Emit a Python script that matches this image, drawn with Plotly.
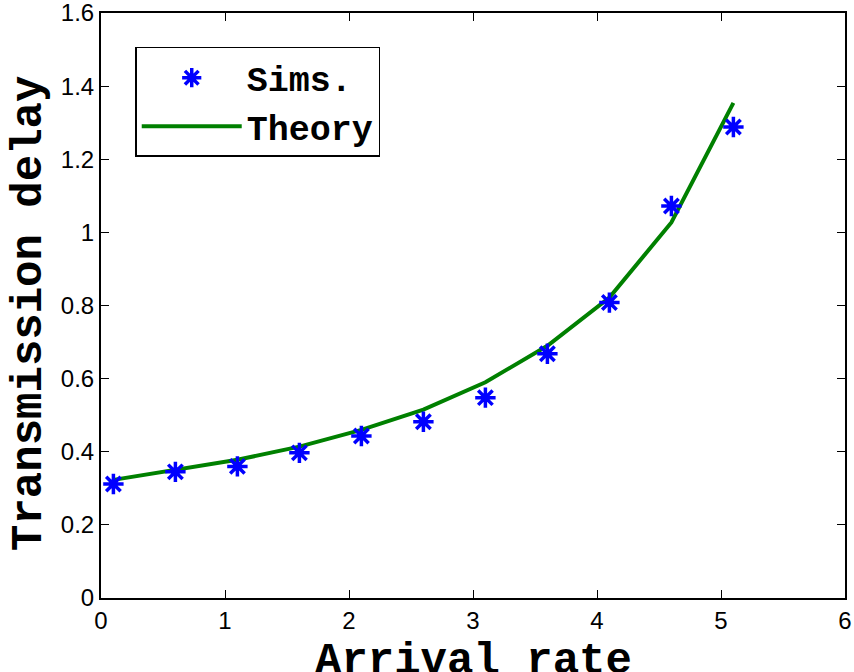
import plotly.graph_objects as go

arrival_rate = [0.1, 0.6, 1.1, 1.6, 2.1, 2.6, 3.1, 3.6, 4.1, 4.6, 5.1]
sims = [0.312, 0.345, 0.360, 0.397, 0.443, 0.482, 0.548, 0.668, 0.808, 1.072, 1.288]
theory = [0.323, 0.350, 0.378, 0.414, 0.460, 0.515, 0.590, 0.690, 0.822, 1.027, 1.354]

x_ticks = [0, 1, 2, 3, 4, 5, 6]
y_ticks = [0, 0.2, 0.4, 0.6, 0.8, 1.0, 1.2, 1.4, 1.6]
y_ticktext = ["0", "0.2", "0.4", "0.6", "0.8", "1", "1.2", "1.4", "1.6"]
x_title = "Arrival rate"
y_title = "Transmission delay"

fig = go.Figure()
fig.add_trace(go.Scatter(
    x=arrival_rate, y=theory, mode="lines", name="Theory",
    line=dict(color="#008000", width=4), showlegend=False))
fig.add_trace(go.Scatter(
    x=arrival_rate, y=sims, mode="markers", name="Sims.",
    marker=dict(symbol="asterisk-open", size=17, color="#0000ff",
                line=dict(color="#0000ff", width=3.5)), showlegend=False))

# legend-only traces (ordered Sims., Theory)
fig.add_trace(go.Scatter(
    x=[None], y=[None], mode="markers", name="<b>Sims.</b>",
    marker=dict(symbol="asterisk-open", size=17, color="#0000ff",
                line=dict(color="#0000ff", width=3.5))))
fig.add_trace(go.Scatter(
    x=[None], y=[None], mode="lines", name="<b>Theory</b>",
    line=dict(color="#008000", width=4)))

tickfont = dict(family="Liberation Sans, Arial, sans-serif", size=24, color="black")
titlefont = dict(family="Liberation Mono, Courier New, monospace", size=44, color="black")

fig.update_layout(
    width=854, height=672,
    margin=dict(l=101, r=9, t=13, b=74),
    plot_bgcolor="white", paper_bgcolor="white",
    legend=dict(
        x=0.046, y=0.942, xanchor="left", yanchor="top",
        bgcolor="white", bordercolor="black", borderwidth=1.5,
        font=dict(family="Liberation Mono, Courier New, monospace", size=35, color="black"),
        itemwidth=100, tracegroupgap=0,
    ),
    xaxis=dict(
        range=[0, 6], tickvals=x_ticks, automargin=False,
        ticks="inside", ticklen=8, tickcolor="black", tickwidth=1,
        showline=True, linecolor="black", linewidth=2, mirror="ticks",
        showgrid=False, zeroline=False, tickfont=tickfont,
        ticklabeloverflow="allow",
    ),
    yaxis=dict(
        range=[0, 1.6], tickvals=y_ticks, ticktext=y_ticktext, automargin=False,
        ticks="inside", ticklen=8, tickcolor="black", tickwidth=1,
        showline=True, linecolor="black", linewidth=2, mirror="ticks",
        showgrid=False, zeroline=False, tickfont=tickfont,
        ticklabeloverflow="allow",
    ),
    annotations=[
        dict(text="<b>" + x_title + "</b>", xref="paper", yref="paper",
             x=0.5, y=-0.061, xanchor="center", yanchor="top",
             showarrow=False, font=titlefont),
        dict(text="<b>" + y_title + "</b>", xref="paper", yref="paper",
             x=-0.097, y=0.487, xanchor="center", yanchor="middle", textangle=-90,
             showarrow=False, font=titlefont),
    ],
)

fig.write_html("out.html")
